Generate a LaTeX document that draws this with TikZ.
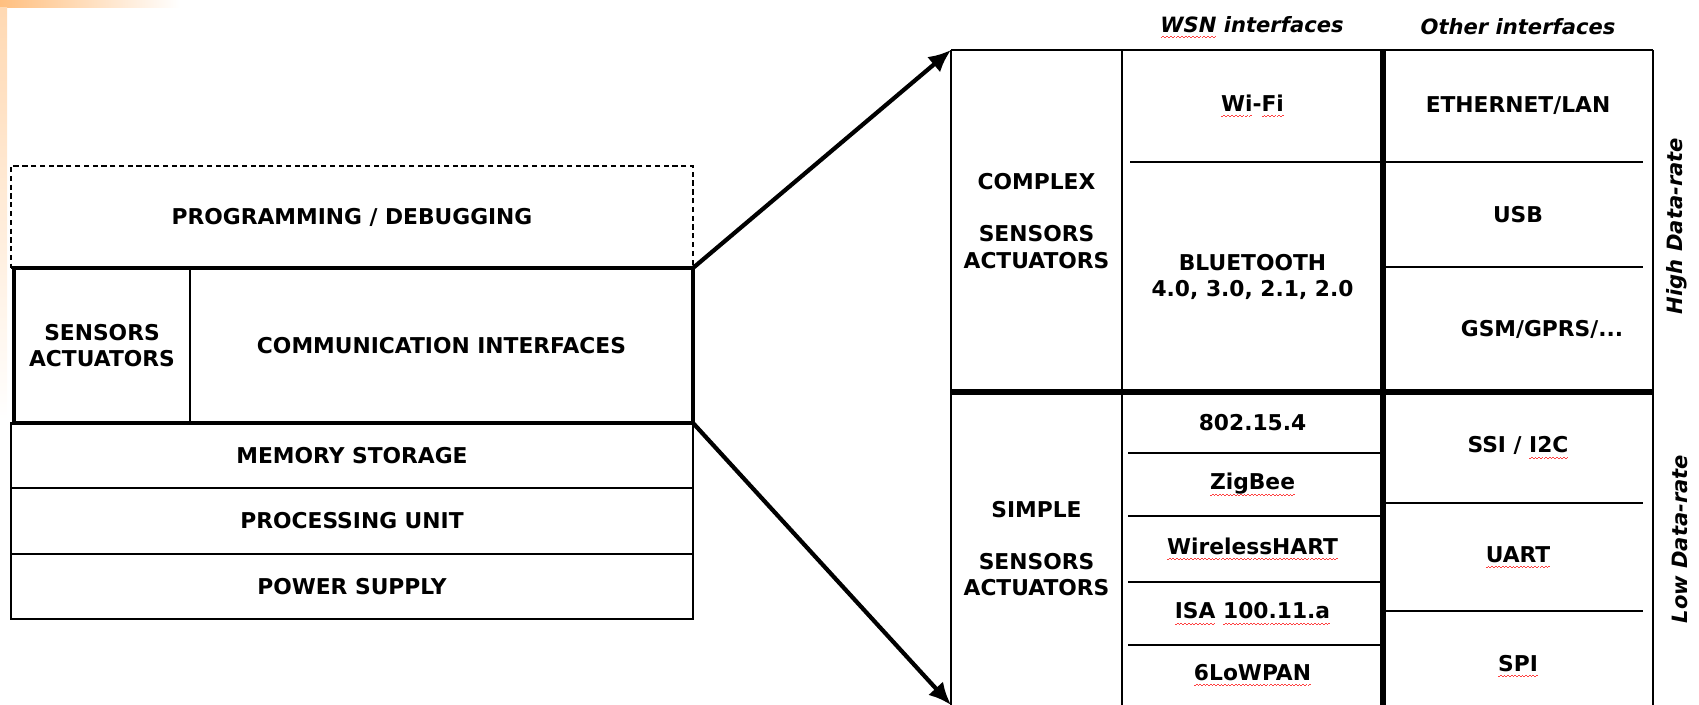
\documentclass[tikz,border=0pt]{standalone}
\usepackage{fontspec}
\setmainfont{DejaVu Sans}
\usetikzlibrary{arrows.meta,positioning}

\def\pxl{0.02cm}
% red spell-check wave under a word
\newcommand\spell[1]{\setbox0=\hbox{#1}\leavevmode
  \rlap{\color{red!75}\hbox to\wd0{\xleaders\hbox{\rule[-3.3pt]{1pt}{0.5pt}\rule[-2.7pt]{1pt}{0.5pt}}\hfill}}\box0\relax}

\begin{document}
\begin{tikzpicture}[
    x=\pxl, y=-\pxl,
    node distance=0pt,
    every node/.style={font=\bfseries\fontsize{12.4}{15}\selectfont, align=center, inner sep=0pt, outer sep=0pt},
    cell/.style 2 args={rectangle, minimum width=#1*\pxl, minimum height=#2*\pxl},
    layer/.style 2 args={cell={#1}{#2}, draw, line width=1.1pt},
    head/.style={font=\bfseries\itshape\fontsize{12}{14.6}\selectfont},
    rule/.style={line width=1.1pt},
    boldrule/.style={line width=3.3pt},
    zoom/.style={-{Latex[length=4.5mm, width=4mm]}, line width=2.4pt}
]
\useasboundingbox (0,0) rectangle (1699,705);
\shade[left color=orange!50, right color=white] (0,0) rectangle (180,8);
\shade[top color=orange!30, bottom color=white] (0,8) rectangle (7,420);

% node stack
\node[layer={682}{102}, dash pattern=on 3pt off 2pt] (prog) at (352,217) {PROGRAMMING / DEBUGGING};
\node[layer={176}{155}] (sens) at (102,345.5) {SENSORS\\ACTUATORS};
\node[layer={503}{155}, right=of sens] (comm) {COMMUNICATION INTERFACES};
\draw[line width=2.8pt] (sens.north west) rectangle (comm.south east);
\node[layer={682}{65}] (mem) at (352,455.5) {MEMORY STORAGE};
\node[layer={682}{66}, below=of mem] (proc) {PROCESSING UNIT};
\node[layer={682}{65}, below=of proc] (power) {POWER SUPPLY};

% interface table
\node[cell={171}{342}] (complex) at (1036.5,221) {COMPLEX\\[14.6pt]SENSORS\\ACTUATORS};
\node[cell={261}{112}, anchor=north west] (wifi) at (complex.north east) {\spell{Wi}-\spell{Fi}};
\node[cell={261}{230}, below=of wifi] (bt) {BLUETOOTH\\4.0, 3.0, 2.1, 2.0};
\node[cell={270}{112}, anchor=north west] (eth) at (wifi.north east) {ETHERNET/LAN};
\node[cell={270}{105}, below=of eth] (usb) {USB};
\node[cell={270}{125}, below=of usb] (gsm) {};
\node[xshift=24*\pxl] (gsmtxt) at (gsm) {GSM/GPRS/...};

\node[cell={171}{313}, below=of complex] (simple) {SIMPLE\\[14.6pt]SENSORS\\ACTUATORS};
\node[cell={261}{61}, anchor=north west] (ieee) at (simple.north east) {802.15.4};
\node[cell={261}{63}, below=of ieee] (zigbee) {\spell{ZigBee}};
\node[cell={261}{66}, below=of zigbee] (whart) {\spell{WirelessHART}};
\node[cell={261}{63}, below=of whart] (isa) {\spell{ISA} \spell{100.11.a}};
\node[cell={261}{60}, below=of isa] (lowpan) {\spell{6LoWPAN}};
\node[cell={270}{111}, anchor=north west] (ssi) at (ieee.north east) {SSI / \spell{I2C}};
\node[cell={270}{108}, below=of ssi] (uart) {\spell{UART}};
\node[cell={270}{110}, below=of uart] (spi) {\spell{SPI}};

\node[head] (wsnhd) at (1252,27) {\spell{WSN} interfaces};
\node[head] (otherhd) at (1518,27) {Other interfaces};
\node[head, rotate=90] (high) at (1677,226) {High Data-rate};
\node[head, rotate=90] (low) at (1680,539) {Low Data-rate};

% grid
\draw[rule] (complex.north west) -- (eth.north east);
\draw[rule] (complex.north west) -- (simple.south west);
\draw[rule] (wifi.north west) -- (lowpan.south west);
\draw[rule] (eth.north east) -- (spi.south east);
\draw[rule] ([xshift=8*\pxl]bt.north west) -- (bt.north east);
\foreach \c in {zigbee,whart,isa,lowpan}
  \draw[rule] ([xshift=6*\pxl]\c.north west) -- (\c.north east);
\foreach \c in {usb,gsm,uart,spi}
  \draw[rule] (\c.north west) -- ([xshift=-10*\pxl]\c.north east);
\draw[boldrule] (eth.north west) -- (spi.south west);
\draw[boldrule] (simple.north west) -- (ssi.north east);

\draw[zoom] (comm.north east) -- (complex.north west);
\draw[zoom] (comm.south east) -- (simple.south west);
\end{tikzpicture}
\end{document}
